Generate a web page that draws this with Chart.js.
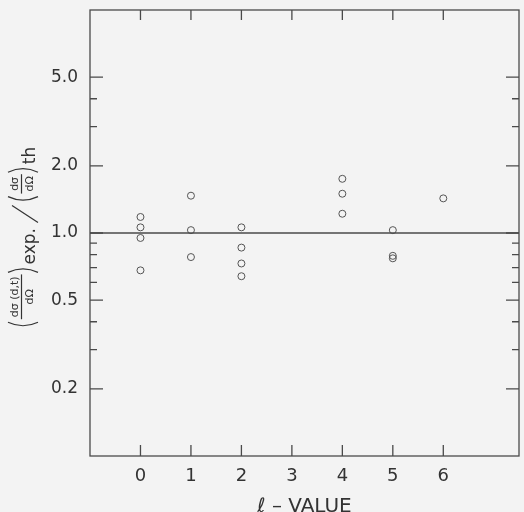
<!DOCTYPE html>
<html>
<head>
<meta charset="utf-8">
<script src="https://cdn.jsdelivr.net/npm/chart.js@4/dist/chart.umd.min.js"></script>
<style>
  html, body { margin: 0; padding: 0; background: #f3f3f3; }
  canvas { display: block; }
</style>
</head>
<body>
<canvas id="ratioChart" width="524" height="512"></canvas>
<script>
// orbital angular momentum transfer of each level
const lValues = [0, 0, 0, 0, 1, 1, 1, 2, 2, 2, 2, 4, 4, 4, 5, 5, 5, 6];
// experimental / theoretical cross-section ratio for each level
const ratios = [1.18, 1.06, 0.95, 0.68, 1.47, 1.03, 0.78, 1.06, 0.86, 0.73, 0.64, 1.75, 1.50, 1.22, 1.03, 0.79, 0.77, 1.43];

const xTicks = [0, 1, 2, 3, 4, 5, 6];
const yMajorTicks = [0.2, 0.5, 1, 2, 5];
const yMinorTicks = [0.3, 0.4, 0.6, 0.7, 0.8, 0.9, 3, 4];
const xMin = -1, xMax = 7.5;
const yMin = 0.1, yMax = 10;
const unityRatio = 1;

const ink = '#333';
const lineInk = '#4a4a4a';
const font = 'DejaVu Sans';

const points = lValues.map((l, i) => ({ x: l, y: ratios[i] }));
const unityLine = [{ x: xMin, y: unityRatio }, { x: xMax, y: unityRatio }];

// thin hand-drawn bracket, baseline at y = 0, going up to y = -27
function paren(ctx, x, open) {
  const w = 5, top = -27, bot = 3;
  ctx.beginPath();
  if (open) {
    ctx.moveTo(x + w, top);
    ctx.quadraticCurveTo(x - 2, (top + bot) / 2, x + w, bot);
  } else {
    ctx.moveTo(x, top);
    ctx.quadraticCurveTo(x + w + 2, (top + bot) / 2, x, bot);
  }
  ctx.stroke();
  return w + 3;
}

function fraction(ctx, x, num, den) {
  ctx.font = '11px "' + font + '"';
  const wn = ctx.measureText(num).width;
  const wd = ctx.measureText(den).width;
  const w = Math.max(wn, wd) + 4;
  ctx.textAlign = 'center';
  ctx.fillText(num, x + w / 2, -17);
  ctx.fillText(den, x + w / 2, -2);
  ctx.textAlign = 'left';
  ctx.beginPath();
  ctx.moveTo(x, -13.5);
  ctx.lineTo(x + w, -13.5);
  ctx.stroke();
  return w + 2;
}

function word(ctx, x, text) {
  ctx.font = '17px "' + font + '"';
  ctx.fillText(text, x, 0);
  return ctx.measureText(text).width;
}

function slash(ctx, x) {
  ctx.beginPath();
  ctx.moveTo(x, 3);
  ctx.lineTo(x + 17, -23);
  ctx.stroke();
  return 19;
}

// rotated y title: (dσ(d,t)/dΩ) exp. / (dσ/dΩ) th
function drawYTitle(ctx, centerY, baseX) {
  const parts = [
    (c, x) => paren(c, x, true),
    (c, x) => fraction(c, x, 'dσ (d,t)', 'dΩ'),
    (c, x) => paren(c, x, false),
    (c, x) => word(c, x, 'exp. '),
    (c, x) => slash(c, x) + 2,
    (c, x) => paren(c, x, true),
    (c, x) => fraction(c, x, 'dσ', 'dΩ'),
    (c, x) => paren(c, x, false),
    (c, x) => word(c, x, 'th')
  ];
  // first pass measures, second pass draws
  const probe = document.createElement('canvas').getContext('2d');
  probe.textBaseline = 'alphabetic';
  let total = 0;
  parts.forEach(p => { total += p(probe, total); });

  ctx.save();
  ctx.translate(baseX, centerY + total / 2);
  ctx.rotate(-Math.PI / 2);
  ctx.fillStyle = ink;
  ctx.strokeStyle = ink;
  ctx.lineWidth = 1.2;
  ctx.textBaseline = 'alphabetic';
  let pos = 0;
  parts.forEach(p => { pos += p(ctx, pos); });
  ctx.restore();
}

const framePlugin = {
  id: 'frame',
  beforeDraw(chart) {
    const ctx = chart.ctx;
    ctx.save();
    ctx.fillStyle = '#f3f3f3';
    ctx.fillRect(0, 0, chart.width, chart.height);
    ctx.restore();
  },
  afterDraw(chart) {
    const { ctx, chartArea: a, scales: { x, y } } = chart;
    ctx.save();
    ctx.strokeStyle = lineInk;
    ctx.lineWidth = 1.3;
    ctx.strokeRect(a.left, a.top, a.right - a.left, a.bottom - a.top);
    ctx.beginPath();
    xTicks.forEach(v => {
      const px = x.getPixelForValue(v);
      ctx.moveTo(px, a.bottom);
      ctx.lineTo(px, a.bottom - 11);
      ctx.moveTo(px, a.top);
      ctx.lineTo(px, a.top + 10);
    });
    const yTick = (v, len) => {
      const py = y.getPixelForValue(v);
      ctx.moveTo(a.left, py);
      ctx.lineTo(a.left + len, py);
      ctx.moveTo(a.right, py);
      ctx.lineTo(a.right - len, py);
    };
    yMajorTicks.forEach(v => yTick(v, 13));
    yMinorTicks.forEach(v => yTick(v, 7));
    ctx.stroke();
    ctx.restore();

    drawYTitle(ctx, 237, 35);
  }
};

const ctx = document.getElementById('ratioChart').getContext('2d');
new Chart(ctx, {
  type: 'scatter',
  data: {
    datasets: [
      {
        type: 'line',
        data: unityLine,
        borderColor: lineInk,
        borderWidth: 1.3,
        pointRadius: 0
      },
      {
        data: points,
        pointStyle: 'circle',
        pointRadius: 3.5,
        borderWidth: 1,
        borderColor: '#555',
        backgroundColor: 'rgba(0,0,0,0)'
      }
    ]
  },
  options: {
    responsive: false,
    animation: false,
    devicePixelRatio: 1,
    layout: { padding: { top: 10, right: 2, left: 0, bottom: 0 } },
    plugins: {
      legend: { display: false },
      tooltip: { enabled: false }
    },
    scales: {
      x: {
        type: 'linear',
        min: xMin,
        max: xMax,
        afterBuildTicks: s => { s.ticks = xTicks.map(v => ({ value: v })); },
        afterFit: s => { s.height = 56; s.paddingLeft = 0; s.paddingRight = 0; },
        grid: { display: false, drawTicks: false },
        border: { display: false },
        ticks: { padding: 10, color: ink, font: { family: font, size: 18 } },
        title: {
          display: true,
          text: 'ℓ – VALUE',
          color: ink,
          font: { family: font, size: 20 },
          padding: { top: 0, bottom: -7 }
        }
      },
      y: {
        type: 'logarithmic',
        min: yMin,
        max: yMax,
        afterBuildTicks: s => { s.ticks = yMajorTicks.map(v => ({ value: v })); },
        afterFit: s => { s.width = 90; s.paddingTop = 0; s.paddingBottom = 0; },
        grid: { display: false, drawTicks: false },
        border: { display: false },
        ticks: {
          padding: 12,
          color: ink,
          font: { family: font, size: 17 },
          callback: v => Number(v).toFixed(1)
        }
      }
    }
  },
  plugins: [framePlugin]
});
</script>
</body>
</html>
